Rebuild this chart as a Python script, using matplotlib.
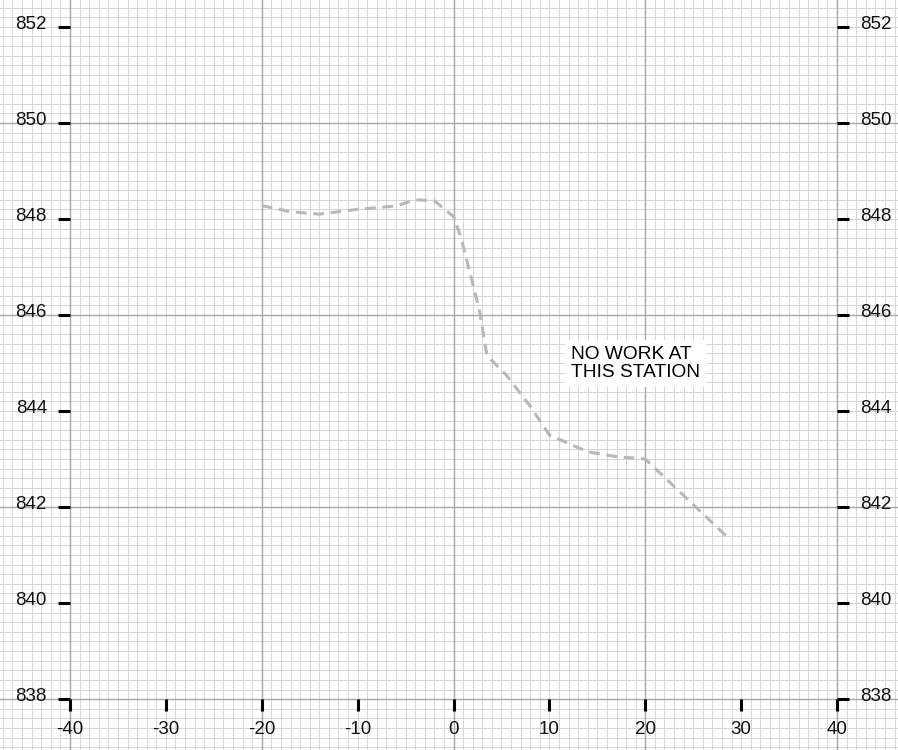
import numpy as np
import matplotlib.pyplot as plt
from matplotlib.transforms import ScaledTranslation

plt.rcParams['font.family'] = ['Liberation Sans', 'DejaVu Sans']
plt.rcParams['axes.unicode_minus'] = False

# ground profile (offset, elevation)
offset = [-20, -17, -14, -10, -6, -4, -2, 0, 0.8, 2.7, 3.5, 5.5, 8, 10, 14, 17, 20, 28.8]
elev = [848.28, 848.15, 848.1, 848.2, 848.27, 848.4, 848.38, 848.05, 847.6, 846.1,
        845.15, 844.75, 844.1, 843.5, 843.15, 843.05, 843.0, 841.33]

x_ticks = [-40, -30, -20, -10, 0, 10, 20, 30, 40]
y_ticks = [838, 840, 842, 844, 846, 848, 850, 852]
note = "NO WORK AT\nTHIS STATION"

fig = plt.figure(figsize=(8.98, 7.5), dpi=100)
ax = fig.add_axes([0, 0, 1, 1])
ax.set_xlim(-47.30, 46.36)
ax.set_ylim(836.94, 852.56)

# grid paper
minor_x = np.arange(-48, 48, 1)
minor_y = np.round(np.arange(836.8, 852.8, 0.2), 1)
ax.vlines(minor_x, 836, 853, color='#d6d6d6', lw=0.75, zorder=0)
ax.hlines(minor_y, -48, 48, color='#d6d6d6', lw=0.75, zorder=0)
ax.vlines([-40, -20, 0, 20, 40], 836, 853, color='#a8a8a8', lw=1.0, zorder=0.5)
ax.hlines([838, 842, 846, 850], -48, 48, color='#a8a8a8', lw=1.0, zorder=0.5)

ax.plot(offset, elev, color='#b8b8b8', lw=2.2, ls=(0, (3.5, 2.2)), zorder=3)

ax.text(12.26, 845.36, note, ha='left', va='top', fontsize=13.8, linespacing=1.1,
        color='black', zorder=4,
        bbox=dict(boxstyle='square,pad=0.3', fc='white', ec='none'))

for s in ax.spines.values():
    s.set_visible(False)
ax.spines['left'].set_position(('data', -40))
ax.spines['right'].set_position(('data', 40))
ax.spines['bottom'].set_position(('data', 838))

ax.set_xticks(x_ticks)
ax.set_yticks(y_ticks)
ax.tick_params(axis='both', direction='out', length=8.6, width=2.2, color='black',
               labelsize=13.5, labelcolor='#111111', pad=8)
ax.tick_params(axis='x', pad=7)
ax.tick_params(axis='y', right=True, labelright=True)
shift = ScaledTranslation(0, -1.5 / 72, fig.dpi_scale_trans)
for t in ax.yaxis.get_major_ticks():
    for lbl in (t.label1, t.label2):
        lbl.set_va('baseline')
        lbl.set_transform(lbl.get_transform() + shift)

fig.savefig('out.png', dpi=100)
